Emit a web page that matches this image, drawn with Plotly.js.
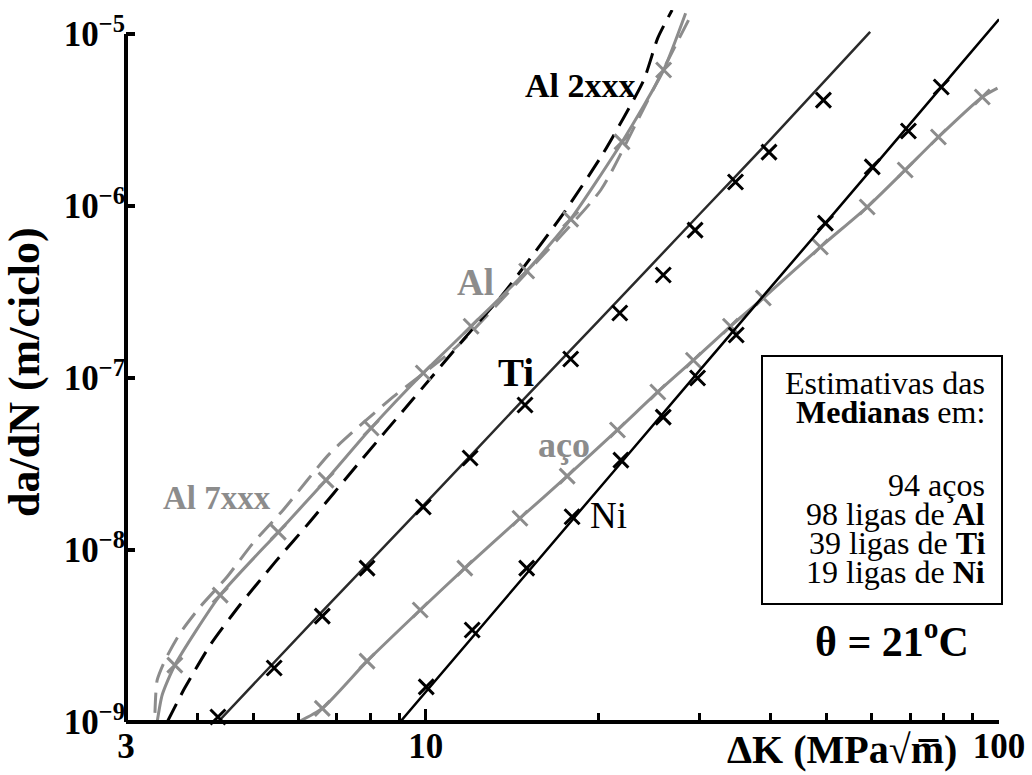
<!DOCTYPE html>
<html><head><meta charset="utf-8">
<script src="https://cdn.plot.ly/plotly-3.0.1.min.js"></script>
<style>html,body{margin:0;padding:0;background:#fff}#chart{width:1032px;height:775px}</style>
</head><body><div id="chart"></div><script>
// ---- data (ΔK in MPa√m, da/dN in m/cycle) ----
const alLineK    = [3.40, 3.47, 3.65, 4.38, 5.53, 6.70, 8.03, 9.9, 12.0, 15.0, 17.9, 22.0, 26.0, 28.4];
const alLineRate = [1.0e-9, 1.44e-9, 2.14e-9, 5.47e-9, 1.27e-8, 2.55e-8, 5.12e-8, 1.07e-7, 2.0e-7, 4.19e-7, 8.4e-7, 2.36e-6, 6.18e-6, 1.32e-5];
const alMarkK    = [3.65, 4.38, 5.53, 6.70, 8.03, 9.9, 12.0, 15.0, 17.9, 22.0, 26.0];
const alMarkRate = [2.14e-9, 5.47e-9, 1.27e-8, 2.55e-8, 5.12e-8, 1.07e-7, 2.0e-7, 4.19e-7, 8.4e-7, 2.36e-6, 6.18e-6];

const al7K    = [3.37, 3.40, 3.51, 3.73, 4.04, 4.50, 5.0, 5.64, 6.81, 8.77, 11.3, 14.6, 20.2, 23.2, 26.2, 29.2];
const al7Rate = [1.13e-9, 1.75e-9, 2.29e-9, 3.29e-9, 4.67e-9, 6.97e-9, 1.10e-8, 1.71e-8, 3.66e-8, 7.76e-8, 1.51e-7, 3.72e-7, 1.24e-6, 2.96e-6, 6.6e-6, 1.34e-5];

const al2K    = [3.54, 3.80, 4.21, 4.74, 5.46, 6.28, 7.59, 9.47, 11.7, 13.6, 17.4, 20.4, 24.0, 25.4, 26.9];
const al2Rate = [1.0e-9, 1.58e-9, 2.81e-9, 4.79e-9, 8.5e-9, 1.46e-8, 3.12e-8, 7.45e-8, 1.71e-7, 3.04e-7, 9.1e-7, 2.03e-6, 5.4e-6, 9.5e-6, 1.38e-5];

const tiLineK    = [4.34, 6.6, 9.9, 15, 20, 30, 40, 59.6];
const tiLineRate = [1.0e-9, 4.4e-9, 1.81e-8, 7.85e-8, 2.14e-7, 8.93e-7, 2.45e-6, 1.03e-5];
const tiMarkK    = [4.34, 5.44, 6.60, 7.90, 9.9, 11.95, 14.9, 17.9, 21.8, 25.96, 29.5, 34.7, 39.7, 49.4];
const tiMarkRate = [1.07e-9, 2.06e-9, 4.13e-9, 7.85e-9, 1.78e-8, 3.43e-8, 6.97e-8, 1.29e-7, 2.39e-7, 3.97e-7, 7.24e-7, 1.38e-6, 2.06e-6, 4.13e-6];

const niLineK    = [9.02, 15, 30, 50, 80, 100];
const niLineRate = [1.0e-9, 7.3e-9, 1.1e-7, 8.07e-7, 5.08e-6, 1.22e-5];
const niMarkK    = [10.02, 12.05, 15.0, 18.0, 21.9, 25.96, 29.8, 34.8, 49.8, 60.1, 69.5, 79.3];
const niMarkRate = [1.6e-9, 3.43e-9, 7.85e-9, 1.56e-8, 3.33e-8, 5.93e-8, 1.0e-7, 1.78e-7, 7.96e-7, 1.69e-6, 2.73e-6, 4.92e-6];

const stLineK    = [5.99, 6.60, 7.90, 9.78, 11.7, 14.6, 17.65, 21.6, 25.4, 29.3, 34.0, 38.8, 48.8, 58.9, 68.6, 78.4, 93.5, 99.4];
const stLineRate = [1.0e-9, 1.2e-9, 2.26e-9, 4.48e-9, 7.85e-9, 1.53e-8, 2.69e-8, 4.99e-8, 8.3e-8, 1.27e-7, 2.0e-7, 2.92e-7, 5.78e-7, 9.87e-7, 1.62e-6, 2.52e-6, 4.31e-6, 4.85e-6];
const stMarkK    = [6.60, 7.90, 9.78, 11.7, 14.6, 17.65, 21.6, 25.4, 29.3, 34.0, 38.8, 48.8, 58.9, 68.6, 78.4, 93.5];
const stMarkRate = [1.2e-9, 2.26e-9, 4.48e-9, 7.85e-9, 1.53e-8, 2.69e-8, 4.99e-8, 8.3e-8, 1.27e-7, 2.0e-7, 2.92e-7, 5.78e-7, 9.87e-7, 1.62e-6, 2.52e-6, 4.31e-6];

const xTickVals  = [3, 10, 100];
const xTickText  = ['3', '10', '100'];
const xMinorVals = [4, 5, 6, 7, 8, 9, 20, 30, 40, 50, 60, 70, 80, 90];
const yTickVals  = [1e-9, 1e-8, 1e-7, 1e-6, 1e-5];
const yTickText  = ['10<sup>−9</sup>', '10<sup>−8</sup>', '10<sup>−7</sup>', '10<sup>−6</sup>', '10<sup>−5</sup>'];

// ---- pick an installed serif font ----
function pickSerif() {
  const c = document.createElement('canvas').getContext('2d');
  const probe = 'Estimativas das Medianas 0123456789 ligas';
  const widthWith = f => { c.font = '40px ' + f; return c.measureText(probe).width; };
  const mono = widthWith('monospace');
  const cands = ['Liberation Serif', 'Tinos', 'Times New Roman', 'Times', 'DejaVu Serif', 'Noto Serif', 'FreeSerif', 'Nimbus Roman', 'Nimbus Roman No9 L'];
  for (const f of cands) {
    if (Math.abs(widthWith('"' + f + '", monospace') - mono) > 0.5) return f;
  }
  return 'Liberation Serif';
}
const SERIF = pickSerif();

// ---- styling ----
const GRAY = '#8c8c8c', DARK = '#2a2a2a', BLACK = '#000000';

function line(x, y, color, width, dash) {
  return {x, y, type: 'scatter', mode: 'lines', hoverinfo: 'skip',
          line: {color, width, dash: dash || 'solid', shape: 'spline', smoothing: 0.6}};
}
function marks(x, y, color) {
  return {x, y, type: 'scatter', mode: 'markers', hoverinfo: 'skip', cliponaxis: false,
          marker: {symbol: 'x-thin', size: 15, color, line: {color, width: 3}}};
}

const traces = [
  line(al7K, al7Rate, GRAY, 3, '20px,10px'),
  line(al2K, al2Rate, BLACK, 3, '20px,10px'),
  line(alLineK, alLineRate, GRAY, 3),
  marks(alMarkK, alMarkRate, GRAY),
  line(stLineK, stLineRate, GRAY, 3),
  marks(stMarkK, stMarkRate, GRAY),
  line(tiLineK, tiLineRate, DARK, 2.5),
  marks(tiMarkK, tiMarkRate, BLACK),
  line(niLineK, niLineRate, BLACK, 2.5),
  marks(niMarkK, niMarkRate, BLACK)
];

// pixel -> paper helper for text placement (plot area 126..999 x 10..722)
const L = 126, R = 999, T = 10, B = 722;
function at(px, py) { return {x: (px - L) / (R - L), y: (B - py) / (B - T), xref: 'paper', yref: 'paper'}; }
function label(px, py, text, size, color, opts) {
  return Object.assign(at(px, py), {text, showarrow: false, xanchor: 'center', yanchor: 'middle',
    font: {family: SERIF, size, color}}, opts || {});
}

const yTop = 4 / 4.14; // paper y of 1e-5 (range -9 .. -4.86)

const annotations = [
  label(580, 85, '<b>Al 2xxx</b>', 34, BLACK),
  label(475, 282, '<b>Al</b>', 37, GRAY),
  label(516, 372, '<b>Ti</b>', 39, BLACK),
  label(564, 445, '<b>aço</b>', 36, GRAY),
  label(608, 515, 'Ni', 37, BLACK),
  label(217, 498, '<b>Al 7xxx</b>', 33, GRAY),
  label(987, 383, 'Estimativas das', 32, BLACK, {xanchor: 'right'}),
  label(987, 412, '<b>Medianas</b> em:', 32, BLACK, {xanchor: 'right'}),
  label(987, 485, '94 aços', 32, BLACK, {xanchor: 'right'}),
  label(987, 514, '98 ligas de <b>Al</b>', 32, BLACK, {xanchor: 'right'}),
  label(987, 543, '39 ligas de <b>Ti</b>', 32, BLACK, {xanchor: 'right'}),
  label(987, 572, '19 ligas de <b>Ni</b>', 32, BLACK, {xanchor: 'right'}),
  label(892, 638, '<b>θ = 21<sup>o</sup>C</b>', 42, BLACK),
  label(842, 749, '<b>ΔK (MPa√m̅)</b>', 40, BLACK),
  label(24, 372, '<b>da/dN (m/ciclo)</b>', 44, BLACK, {textangle: -90})
];

const shapes = [
  {type: 'line', xref: 'paper', yref: 'paper', x0: 0, x1: 1, y0: 0, y1: 0, line: {color: BLACK, width: 4}},
  {type: 'line', xref: 'paper', yref: 'paper', x0: 0, x1: 0, y0: 0, y1: yTop, line: {color: BLACK, width: 4}},
  {type: 'rect', line: {color: BLACK, width: 2}, fillcolor: 'rgba(0,0,0,0)', xref: 'paper', yref: 'paper',
   x0: at(762, 0).x, x1: at(1002, 0).x, y0: at(0, 604).y, y1: at(0, 356).y}
];

const layout = {
  width: 1032, height: 775,
  margin: {l: L, r: 1032 - R, t: T, b: 775 - B},
  paper_bgcolor: '#fff', plot_bgcolor: '#fff',
  showlegend: false,
  font: {family: SERIF},
  xaxis: {type: 'log', range: [Math.log10(3), 2], showgrid: false, zeroline: false, showline: false,
    tickvals: xTickVals, ticktext: xTickText, ticks: 'inside', ticklen: 13, tickwidth: 3, tickcolor: BLACK,
    tickfont: {family: SERIF, size: 35, color: BLACK, weight: 'bold'},
    minor: {tickvals: xMinorVals, ticks: 'inside', ticklen: 9, tickwidth: 3, tickcolor: BLACK, showgrid: false}},
  yaxis: {type: 'log', range: [-9, -4.86], showgrid: false, zeroline: false, showline: false,
    tickvals: yTickVals, ticktext: yTickText, ticks: 'inside', ticklen: 9, tickwidth: 4, tickcolor: BLACK,
    tickfont: {family: SERIF, size: 35, color: BLACK, weight: 'bold'}},
  annotations, shapes
};

Plotly.newPlot('chart', traces, layout, {staticPlot: true, displayModeBar: false});
</script></body></html>
